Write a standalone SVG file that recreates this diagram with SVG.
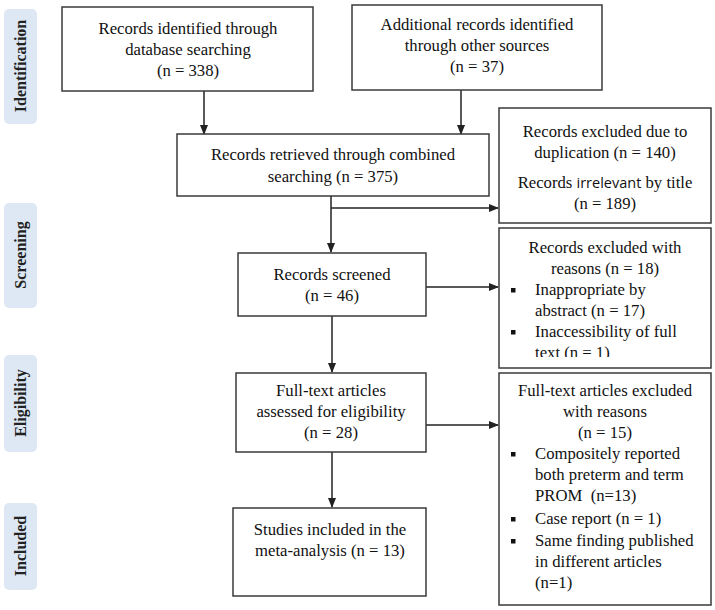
<svg xmlns="http://www.w3.org/2000/svg" width="715" height="610" viewBox="0 0 715 610">
<style>
.box{fill:#fff;stroke:#3a3a3a;stroke-width:1.5}
.lab{fill:#dde8f4}
.lt{font-family:"Liberation Serif","Times New Roman",serif;font-weight:bold;font-size:16px;fill:#222;text-anchor:middle}
.t{font-family:"Liberation Serif","Times New Roman",serif;font-size:16.7px;fill:#111;text-anchor:middle}
.tl{font-family:"Liberation Serif","Times New Roman",serif;font-size:16.7px;fill:#111}
.sans{font-family:"Open Sans","Liberation Sans",sans-serif;font-size:14.5px}
.conn{stroke:#222;stroke-width:1.5;fill:none}
.bul{fill:#111}
</style>
<defs>
<marker id="ah" markerWidth="10" markerHeight="10" refX="9" refY="5" orient="auto" markerUnits="userSpaceOnUse">
<path d="M0,1 L10,5 L0,9 Z" fill="#222"/>
</marker>
<clipPath id="clip6"><rect x="499" y="228" width="212" height="129"/></clipPath>
</defs>
<g id="labels">
<g id="lab-identification"><rect class="lab" x="4" y="9" width="33" height="115" rx="5"/><text class="lt" transform="translate(26,66) rotate(-90)">Identification</text></g>
<g id="lab-screening"><rect class="lab" x="4" y="203" width="33" height="105" rx="5"/><text class="lt" transform="translate(26,255) rotate(-90)">Screening</text></g>
<g id="lab-eligibility"><rect class="lab" x="4" y="355" width="33" height="97" rx="5"/><text class="lt" transform="translate(26,403) rotate(-90)">Eligibility</text></g>
<g id="lab-included"><rect class="lab" x="4" y="503" width="33" height="87" rx="5"/><text class="lt" transform="translate(26,546) rotate(-90)">Included</text></g>
</g>
<g id="connectors">
<line class="conn" x1="204" y1="91" x2="204" y2="134" marker-end="url(#ah)"/>
<line class="conn" x1="461" y1="90" x2="461" y2="134" marker-end="url(#ah)"/>
<line class="conn" x1="331" y1="196" x2="331" y2="252" marker-end="url(#ah)"/>
<line class="conn" x1="331" y1="208" x2="498" y2="208" marker-end="url(#ah)"/>
<line class="conn" x1="426" y1="287" x2="498" y2="287" marker-end="url(#ah)"/>
<line class="conn" x1="332" y1="316" x2="332" y2="372" marker-end="url(#ah)"/>
<line class="conn" x1="426" y1="425" x2="498" y2="425" marker-end="url(#ah)"/>
<line class="conn" x1="332" y1="452" x2="332" y2="507" marker-end="url(#ah)"/>
</g>
<g id="n-db">
<rect class="box" x="62" y="7" width="251" height="84"/>
<text class="t" x="188" y="34">Records identified through</text>
<text class="t" x="188" y="55">database searching</text>
<text class="t" x="188" y="76">(n = 338)</text>
</g>
<g id="n-other">
<rect class="box" x="352" y="5" width="250" height="85"/>
<text class="t" x="477" y="30">Additional records identified</text>
<text class="t" x="477" y="51">through other sources</text>
<text class="t" x="477" y="72">(n = 37)</text>
</g>
<g id="n-combined">
<rect class="box" x="177" y="134" width="312" height="62"/>
<text class="t" x="333" y="160">Records retrieved through combined</text>
<text class="t" x="333" y="182">searching (n = 375)</text>
</g>
<g id="n-dup">
<rect class="box" x="499" y="108" width="212" height="115"/>
<text class="t" x="605" y="137">Records excluded due to</text>
<text class="t" x="605" y="158">duplication (n = 140)</text>
<text class="t" x="605" y="188">Records <tspan class="sans">irrelevant</tspan> by title</text>
<text class="t" x="605" y="209">(n = 189)</text>
</g>
<g id="n-screened">
<rect class="box" x="238" y="253" width="188" height="63"/>
<text class="t" x="332" y="280">Records screened</text>
<text class="t" x="332" y="301">(n = 46)</text>
</g>
<g id="n-excl1">
<rect class="box" x="499" y="228" width="212" height="140"/>
<g clip-path="url(#clip6)">
<text class="t" x="605" y="253">Records excluded with</text>
<text class="t" x="605" y="274">reasons (n = 18)</text>
<rect class="bul" x="511" y="288" width="4.5" height="4.5"/>
<text class="tl" x="535" y="295">Inappropriate by</text>
<text class="tl" x="535" y="316">abstract (n = 17)</text>
<rect class="bul" x="511" y="330" width="4.5" height="4.5"/>
<text class="tl" x="535" y="337">Inaccessibility of full</text>
<text class="tl" x="535" y="358">text (n = 1)</text>
</g>
</g>
<g id="n-fulltext">
<rect class="box" x="236" y="373" width="190" height="79"/>
<text class="t" x="331" y="396">Full-text articles</text>
<text class="t" x="331" y="417">assessed for eligibility</text>
<text class="t" x="331" y="438">(n = 28)</text>
</g>
<g id="n-excl2">
<rect class="box" x="499" y="373" width="212" height="232"/>
<text class="t" x="605" y="396">Full-text articles excluded</text>
<text class="t" x="605" y="417">with reasons</text>
<text class="t" x="605" y="438">(n = 15)</text>
<rect class="bul" x="511" y="452" width="4.5" height="4.5"/>
<text class="tl" x="535" y="459">Compositely reported</text>
<text class="tl" x="535" y="480">both preterm and term</text>
<text class="tl" x="535" y="501" xml:space="preserve">PROM  (n=13)</text>
<rect class="bul" x="511" y="517" width="4.5" height="4.5"/>
<text class="tl" x="535" y="524">Case report (n = 1)</text>
<rect class="bul" x="511" y="539" width="4.5" height="4.5"/>
<text class="tl" x="535" y="546">Same finding published</text>
<text class="tl" x="535" y="567">in different articles</text>
<text class="tl" x="535" y="588">(n=1)</text>
</g>
<g id="n-included">
<rect class="box" x="233" y="508" width="193" height="88"/>
<text class="t" x="330" y="535">Studies included in the</text>
<text class="t" x="330" y="556">meta-analysis (n = 13)</text>
</g>
</svg>
